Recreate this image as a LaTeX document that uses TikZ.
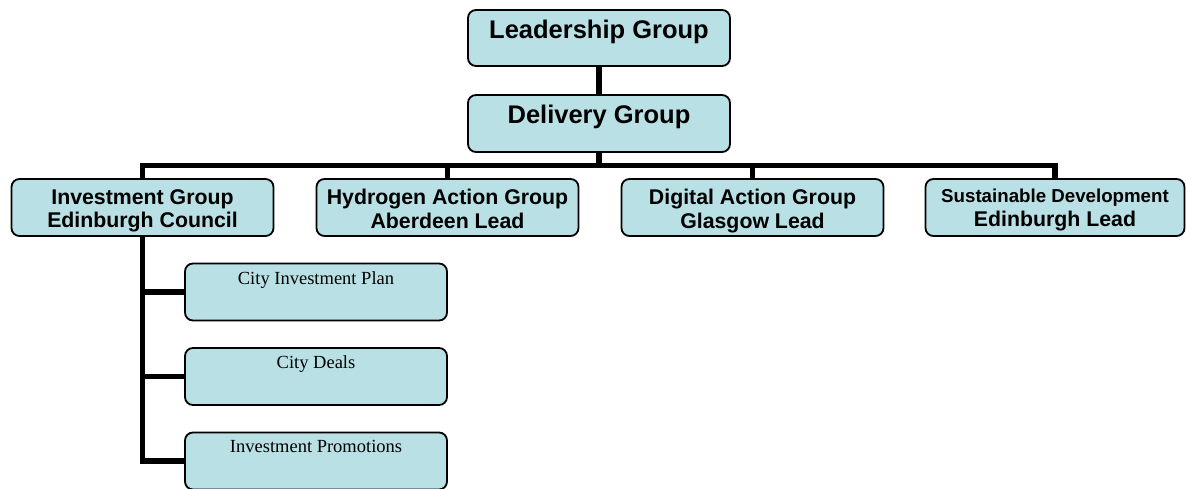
\documentclass[tikz,border=0pt]{standalone}
\usepackage{fontspec}
\setmainfont{Liberation Serif}
\setsansfont{Liberation Sans}
\definecolor{boxfill}{RGB}{185,224,228}
\tikzset{
  orgbox/.style={draw=black, line width=1.8pt, rounded corners=8pt, fill=boxfill,
    minimum width=262pt, minimum height=57pt, inner sep=0pt},
  conn/.style={line width=5.5pt, line join=miter},
  bigtxt/.style={font=\sffamily\bfseries\fontsize{25.5}{28}\selectfont, inner sep=0pt, anchor=north, yshift=-10.5pt},
  midtxt/.style={font=\sffamily\bfseries\fontsize{21.3}{23.4}\selectfont, inner sep=0pt, anchor=north, yshift=-11pt, align=center},
  subtxt/.style={font=\rmfamily\fontsize{18.5}{20}\selectfont, inner sep=0pt, anchor=north, yshift=-8.5pt}
}
\begin{document}
\begin{tikzpicture}[x=1pt,y=-1pt]
\useasboundingbox (0,0) rectangle (1186,488);
% top levels
\node[orgbox, minimum height=56pt, label={[bigtxt]north:Leadership Group}] (lead) at (599,38) {};
\node[orgbox, label={[bigtxt]north:Delivery Group}] (deliv) at (599,123.5) {};
% second level
\node[orgbox, label={[midtxt]north:Investment Group\\Edinburgh Council}] (inv) at (142.5,207.5) {};
\node[orgbox, label={[midtxt]north:Hydrogen Action Group\\Aberdeen Lead}] (hyd) at (447.5,207.5) {};
\node[orgbox, label={[midtxt]north:Digital Action Group\\Glasgow Lead}] (dig) at (752.5,207.5) {};
\node[orgbox, minimum width=259pt, label={[midtxt]north:{\fontsize{18.7}{20.5}\selectfont Sustainable Development}\\Edinburgh Lead}] (sus) at (1055,207.5) {};
% sub boxes
\node[orgbox, label={[subtxt]north:City Investment Plan}] (p1) at (316,292) {};
\node[orgbox, label={[subtxt]north:City Deals}] (p2) at (316,376.5) {};
\node[orgbox, label={[subtxt]north:Investment Promotions}] (p3) at (316,461) {};
% connectors
\coordinate (bary) at (0,165.5);
\draw[conn] (lead.south) -- (deliv.north);
\draw[conn] (deliv.south) -- (deliv.south |- bary);
\draw[conn] (inv.north) -- (inv.north |- bary) -- (sus.north |- bary) -- (sus.north);
\draw[conn] (hyd.north) -- (hyd.north |- bary);
\draw[conn] (dig.north) -- (dig.north |- bary);
\draw[conn] (inv.south) -- (inv.south |- p3.west) -- (p3.west);
\draw[conn] (inv.south |- p1.west) -- (p1.west);
\draw[conn] (inv.south |- p2.west) -- (p2.west);
\end{tikzpicture}
\end{document}
